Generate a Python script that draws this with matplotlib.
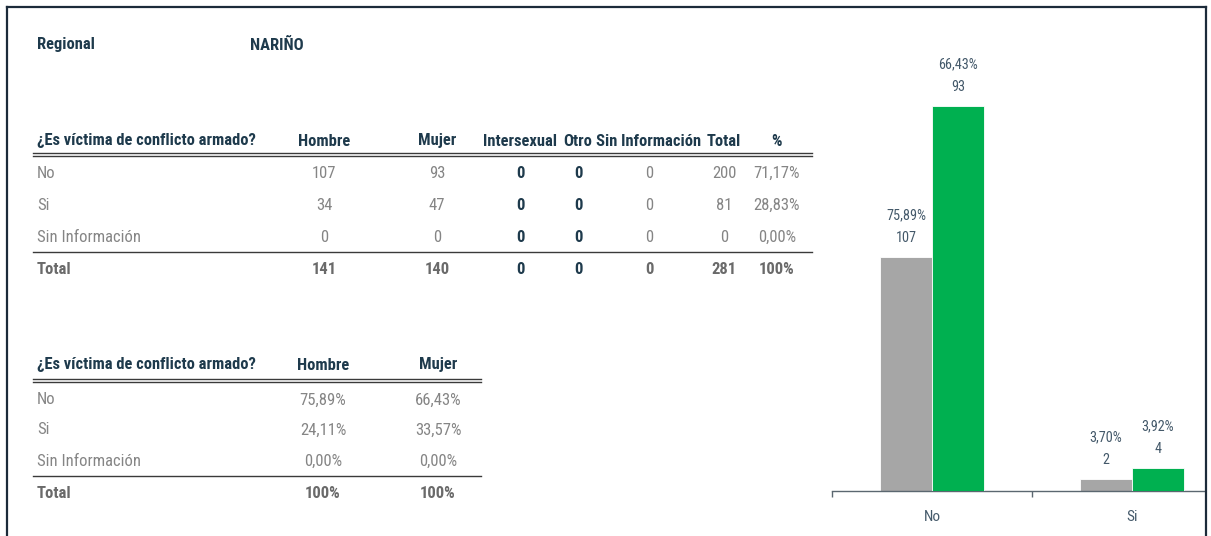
import matplotlib
matplotlib.use("Agg")
import matplotlib.pyplot as plt
from matplotlib import font_manager as fm
from matplotlib.lines import Line2D
from matplotlib.patches import Rectangle

# ---------------- data ----------------
regional = "NARIÑO"
question = "¿Es víctima de conflicto armado?"
row_labels = ["No", "Si", "Sin Información"]
col_headers = ["Hombre", "Mujer", "Intersexual", "Otro", "Sin Información", "Total", "%"]
hombre = [107, 34, 0]
mujer = [93, 47, 0]
intersexual = [0, 0, 0]
otro = [0, 0, 0]
sin_info = [0, 0, 0]

chart_categories = ["No", "Si"]
chart_hombre_count = [107, 2]
chart_hombre_pct = [75.89, 3.70]
chart_mujer_count = [93, 4]
chart_mujer_pct = [66.43, 3.92]

# ---------------- fonts ----------------
available = {f.name for f in fm.fontManager.ttflist}
family = "DejaVu Sans"
for cand in ["Liberation Sans Narrow", "DejaVu Sans Condensed", "Roboto Condensed", "Liberation Sans"]:
    if cand in available:
        family = cand
        break
plt.rcParams["font.family"] = [family, "DejaVu Sans"]

W, H = 1211, 536
fig = plt.figure(figsize=(W / 100, H / 100), dpi=100)
fig.patch.set_facecolor("white")

def fx(x):
    return x / W

def fy(y):
    return 1 - y / H

NAVY = "#1E3A4C"
GRAY = "#858585"
TGRAY = "#6A6A6A"
LINE = "#3A3A3A"
FS_H = 11.9
FS_D = 12.0

def txt(x, y, s, ha="center", color=GRAY, weight="normal", size=FS_D):
    fig.text(fx(x), fy(y), s, ha=ha, va="center", color=color, fontweight=weight, fontsize=size)

def hline(x0, x1, y, lw=1.0, color=LINE):
    fig.add_artist(Line2D([fx(x0), fx(x1)], [fy(y), fy(y)], color=color, lw=lw,
                          transform=fig.transFigure))

def fmt_pct(v):
    return f"{v:.2f}".replace(".", ",") + "%"

# ---------------- header ----------------
txt(37, 45, "Regional", ha="left", color=NAVY, weight="bold", size=FS_H)
txt(250, 45, regional, ha="left", color=NAVY, weight="bold", size=FS_H)

# ---------------- table 1 ----------------
col_x = [324, 437, 520, 578, 649, 724, 777]
hy = 141
txt(37, hy, question, ha="left", color=NAVY, weight="bold", size=FS_H)
for cx, h in zip(col_x, col_headers):
    txt(cx, hy, h, color=NAVY, weight="bold", size=FS_H)
hline(33, 812, 152.5)
hline(33, 812, 155.5)

totals = [h + m + i + o + s for h, m, i, o, s in zip(hombre, mujer, intersexual, otro, sin_info)]
grand = sum(totals)
row_y = [173, 205, 237]
for r, y in enumerate(row_y):
    txt(37, y, row_labels[r], ha="left")
    txt(col_x[0], y, str(hombre[r]))
    txt(col_x[1], y, str(mujer[r]))
    txt(col_x[2], y, str(intersexual[r]), color=NAVY, weight="bold")
    txt(col_x[3], y, str(otro[r]), color=NAVY, weight="bold")
    txt(col_x[4], y, str(sin_info[r]))
    txt(col_x[5], y, str(totals[r]))
    txt(col_x[6], y, fmt_pct(100 * totals[r] / grand))
hline(33, 812, 251.5)
ty = 269
txt(37, ty, "Total", ha="left", color=TGRAY, weight="bold")
txt(col_x[0], ty, str(sum(hombre)), color=TGRAY, weight="bold")
txt(col_x[1], ty, str(sum(mujer)), color=TGRAY, weight="bold")
txt(col_x[2], ty, str(sum(intersexual)), color=NAVY, weight="bold")
txt(col_x[3], ty, str(sum(otro)), color=NAVY, weight="bold")
txt(col_x[4], ty, str(sum(sin_info)), color=TGRAY, weight="bold")
txt(col_x[5], ty, str(grand), color=TGRAY, weight="bold")
txt(col_x[6], ty, "100%", color=TGRAY, weight="bold")

# ---------------- table 2 ----------------
hy2 = 365
col2_x = [323, 438]
txt(37, hy2, question, ha="left", color=NAVY, weight="bold", size=FS_H)
txt(col2_x[0], hy2, col_headers[0], color=NAVY, weight="bold", size=FS_H)
txt(col2_x[1], hy2, col_headers[1], color=NAVY, weight="bold", size=FS_H)
hline(33, 481, 378.5)
hline(33, 481, 381.5)
row_y2 = [400, 430, 461]
th, tm = sum(hombre), sum(mujer)
for r, y in enumerate(row_y2):
    txt(37, y, row_labels[r], ha="left")
    txt(col2_x[0], y, fmt_pct(100 * hombre[r] / th))
    txt(col2_x[1], y, fmt_pct(100 * mujer[r] / tm))
hline(33, 481, 475.5)
txt(37, 493, "Total", ha="left", color=TGRAY, weight="bold")
txt(col2_x[0], 493, "100%", color=TGRAY, weight="bold")
txt(col2_x[1], 493, "100%", color=TGRAY, weight="bold")

# ---------------- bar chart ----------------
ax_l, ax_r, ax_t, ax_b = 832, 1232, 45, 490.7
ax = fig.add_axes([fx(ax_l), fy(ax_b), (ax_r - ax_l) / W, (ax_b - ax_t) / H])
ax2 = ax.twinx()
bw = 0.26
xs = list(range(len(chart_categories)))
GREY_BAR = "#A6A6A6"
GREEN = "#00B050"
LBL = "#44596A"
ax.bar([x - bw / 2 for x in xs], chart_hombre_pct, width=bw, color=GREY_BAR,
       edgecolor="white", linewidth=0.6, zorder=2)
ax2.bar([x + bw / 2 for x in xs], chart_mujer_pct, width=bw, color=GREEN,
        edgecolor="white", linewidth=0.6, zorder=2)
ax.set_xlim(-0.5, len(xs) - 0.5)
ax.set_ylim(0, (ax_b - ax_t) / (233.4 / 75.89))
ax2.set_ylim(0, (ax_b - ax_t) / (384.7 / 66.43))

for a, xsft, pcts, cnts in [(ax, -bw / 2, chart_hombre_pct, chart_hombre_count),
                            (ax2, bw / 2, chart_mujer_pct, chart_mujer_count)]:
    for x, p, c in zip(xs, pcts, cnts):
        a.annotate(str(c), (x + xsft, p), xytext=(0, 19), textcoords="offset pixels",
                   ha="center", va="center", color=LBL, fontsize=10.3)
        a.annotate(fmt_pct(p), (x + xsft, p), xytext=(0, 42), textcoords="offset pixels",
                   ha="center", va="center", color=LBL, fontsize=10.3)

for a in (ax, ax2):
    for s in ("top", "left", "right"):
        a.spines[s].set_visible(False)
    a.set_yticks([])
    a.patch.set_visible(False)
ax2.spines["bottom"].set_visible(False)
ax.spines["bottom"].set_color("#5B6770")
ax.spines["bottom"].set_linewidth(1.0)
ax.set_xticks(xs)
ax.set_xticklabels(chart_categories, color=LBL, fontsize=11)
ax.tick_params(axis="x", which="major", length=0, pad=14)
ax.set_xticks([-0.5 + i for i in range(len(xs) + 1)], minor=True)
ax.tick_params(axis="x", which="minor", length=4, width=1.0, color="#5B6770", direction="out")

# ---------------- border ----------------
fig.add_artist(Rectangle((fx(1207), 0), 1, 1, transform=fig.transFigure,
                         facecolor="white", edgecolor="none", zorder=10))
BORDER = "#1C2B3A"
fig.add_artist(Line2D([fx(7), fx(7)], [0, fy(7)], color=BORDER, lw=1.6,
                      transform=fig.transFigure, zorder=11))
fig.add_artist(Line2D([fx(7), fx(1206)], [fy(7), fy(7)], color=BORDER, lw=1.6,
                      transform=fig.transFigure, zorder=11))
fig.add_artist(Line2D([fx(1206), fx(1206)], [0, fy(7)], color=BORDER, lw=1.6,
                      transform=fig.transFigure, zorder=11))

fig.savefig("out.png", dpi=100)
